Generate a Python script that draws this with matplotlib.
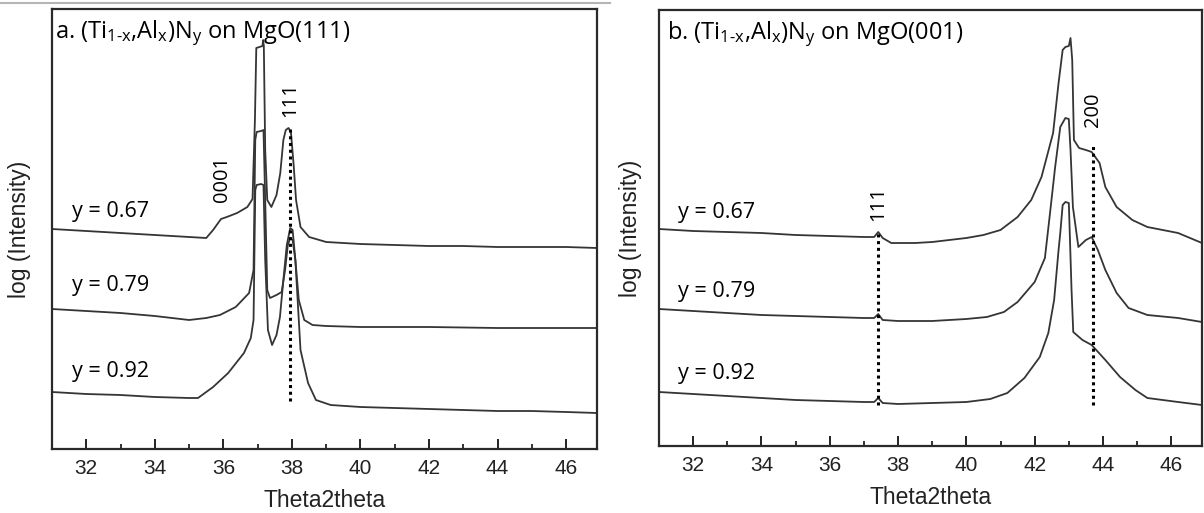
import matplotlib
matplotlib.use("Agg")
import matplotlib.pyplot as plt
from matplotlib.lines import Line2D
from matplotlib.ticker import MultipleLocator

TEXT_FONT = "Open Sans"
AXIS_FONT = "Liberation Sans"

plt.rcParams["mathtext.fontset"] = "custom"
plt.rcParams["mathtext.rm"] = TEXT_FONT + ":medium"
plt.rcParams["mathtext.it"] = TEXT_FONT + ":italic"

# ---- data: 2theta (deg) and offset log intensity (arb. units) ----
# (a) MgO(111)
a_067_x = [31.0, 32.0, 33.0, 34.0, 35.0, 35.5, 35.7, 35.93, 36.1, 36.4, 36.7, 36.85, 36.92, 36.96,
           37.05, 37.14, 37.16, 37.18, 37.22, 37.28, 37.4, 37.55, 37.66, 37.75, 37.82, 37.9, 37.97,
           38.05, 38.12, 38.25, 38.5, 39.0, 40.0, 41.0, 42.0, 43.0, 44.0, 45.0, 46.0, 46.9]
a_067_y = [2.20, 2.18, 2.16, 2.14, 2.12, 2.11, 2.19, 2.30, 2.32, 2.36, 2.42, 2.50, 3.29, 4.01,
           4.02, 4.03, 4.09, 4.03, 2.99, 2.49, 2.42, 2.54, 2.76, 3.09, 3.19, 3.21, 3.17,
           2.84, 2.49, 2.22, 2.12, 2.07, 2.05, 2.04, 2.03, 2.03, 2.02, 2.02, 2.02, 2.01]

a_079_x = [31.0, 32.0, 33.0, 34.0, 35.0, 35.5, 35.9, 36.36, 36.75, 36.88, 36.93, 36.97, 37.1, 37.17,
           37.22, 37.28, 37.36, 37.55, 37.7, 37.8, 37.88, 37.95, 38.02, 38.1, 38.2, 38.36, 38.6,
           39.0, 40.0, 42.0, 44.0, 46.0, 46.9]
a_079_y = [1.40, 1.38, 1.36, 1.33, 1.29, 1.31, 1.34, 1.42, 1.56, 1.79, 3.09, 3.17, 3.18, 3.19,
           2.49, 1.59, 1.51, 1.54, 1.57, 1.79, 2.04, 2.11, 2.09, 1.89, 1.49, 1.29, 1.24,
           1.23, 1.22, 1.22, 1.21, 1.21, 1.21]

a_092_x = [31.0, 32.0, 33.0, 34.0, 35.0, 35.26, 35.7, 36.14, 36.6, 36.8, 36.88, 36.93, 36.97, 37.1,
           37.17, 37.22, 37.3, 37.42, 37.55, 37.65, 37.75, 37.85, 37.95, 38.02, 38.1, 38.25, 38.47,
           38.7, 39.13, 40.0, 41.0, 42.0, 43.0, 44.0, 45.0, 46.0, 46.9]
a_092_y = [0.57, 0.55, 0.54, 0.52, 0.51, 0.51, 0.62, 0.76, 0.96, 1.11, 1.29, 2.59, 2.64, 2.65,
           2.64, 1.89, 1.19, 1.04, 1.14, 1.32, 1.69, 2.04, 2.21, 2.19, 1.89, 0.99, 0.66,
           0.49, 0.44, 0.42, 0.41, 0.40, 0.39, 0.38, 0.38, 0.37, 0.36]

# (b) MgO(001)
b_067_x = [31.0, 32.0, 33.0, 34.0, 35.0, 36.0, 37.0, 37.3, 37.42, 37.55, 37.8, 38.5, 39.0, 40.0,
           40.5, 41.0, 41.5, 41.9, 42.2, 42.54, 42.7, 42.82, 42.9, 43.0, 43.05, 43.1, 43.15, 43.3,
           43.5, 43.67, 43.9, 44.07, 44.4, 44.86, 45.3, 46.2, 46.9]
b_067_y = [2.17, 2.15, 2.14, 2.13, 2.11, 2.10, 2.09, 2.09, 2.14, 2.08, 2.03, 2.03, 2.04, 2.08,
           2.11, 2.16, 2.29, 2.46, 2.69, 3.13, 3.63, 3.96, 3.99, 4.00, 4.08, 3.86, 3.06, 2.98,
           2.96, 2.94, 2.83, 2.59, 2.39, 2.26, 2.19, 2.13, 2.03]

b_079_x = [31.0, 32.0, 33.0, 34.0, 35.0, 36.0, 37.0, 37.3, 37.42, 37.55, 38.0, 39.0, 40.0, 40.6,
           41.1, 41.5, 42.0, 42.3, 42.45, 42.6, 42.75, 42.9, 43.0, 43.05, 43.12, 43.28, 43.5,
           43.67, 43.85, 44.07, 44.4, 44.75, 45.3, 46.2, 46.9]
b_079_y = [1.37, 1.35, 1.33, 1.31, 1.30, 1.29, 1.28, 1.28, 1.32, 1.26, 1.25, 1.25, 1.27, 1.29,
           1.34, 1.44, 1.64, 1.88, 2.33, 2.79, 3.19, 3.28, 3.27, 2.96, 2.39, 1.99, 2.06,
           2.09, 1.96, 1.76, 1.53, 1.38, 1.31, 1.28, 1.24]

b_092_x = [31.0, 32.0, 33.0, 34.0, 35.0, 36.0, 37.0, 37.3, 37.42, 37.55, 38.0, 39.0, 40.0, 40.7,
           41.2, 41.7, 42.15, 42.4, 42.57, 42.7, 42.75, 42.82, 42.9, 43.0, 43.08, 43.13, 43.4,
           43.67, 44.07, 44.5, 44.95, 45.3, 46.2, 46.9]
b_092_y = [0.54, 0.52, 0.50, 0.48, 0.46, 0.45, 0.44, 0.44, 0.48, 0.43, 0.42, 0.43, 0.44, 0.47,
           0.53, 0.68, 0.89, 1.13, 1.46, 1.96, 2.13, 2.41, 2.44, 2.43, 1.56, 1.14, 1.06,
           1.01, 0.86, 0.69, 0.56, 0.48, 0.44, 0.41]

series_labels = ["y = 0.67", "y = 0.79", "y = 0.92"]
xticks = [32, 34, 36, 38, 40, 42, 44, 46]

panels = [
    dict(title=r"a. (Ti$_{\text{1-x}}$,Al$_{\text{x}}$)N$_{\text{y}}$ on MgO(111)",
         traces=[(a_067_x, a_067_y), (a_079_x, a_079_y), (a_092_x, a_092_y)],
         label_y=[2.37, 1.63, 0.78],
         refs=[(37.95, 0.48, 3.21, "111", 3.49)],
         extra=[("0001", 35.96, 2.70)],
         rect=[52 / 1204, 64 / 513, 545 / 1204, 440 / 513],
         ylim=(0, 4.40), ylab_x=-0.0600, title_x=0.0064),
    dict(title=r"b. (Ti$_{\text{1-x}}$,Al$_{\text{x}}$)N$_{\text{y}}$ on MgO(001)",
         traces=[(b_067_x, b_067_y), (b_079_x, b_079_y), (b_092_x, b_092_y)],
         label_y=[2.34, 1.55, 0.73],
         refs=[(37.42, 0.41, 2.14, "111", 2.42), (43.71, 0.41, 3.03, "200", 3.36)],
         extra=[],
         rect=[659 / 1204, 67 / 513, 543 / 1204, 436 / 513],
         ylim=(0, 4.36), ylab_x=-0.0525, title_x=0.0147),
]

fig = plt.figure(figsize=(12.04, 5.13), dpi=100)

# thin rule across the top-left
fig.add_artist(Line2D([0, 610 / 1204], [1 - 3 / 513, 1 - 3 / 513],
                      transform=fig.transFigure, color="#b5b5b5", lw=1.5))

text_kw = dict(family=TEXT_FONT, fontweight="medium", color="black")
trace_color = "#353535"
for p in panels:
    ax = fig.add_axes(p["rect"])
    for xs, ys in p["traces"]:
        ax.plot(xs, ys, color=trace_color, lw=1.3)
    for xr, y0, y1, lab, ylab in p["refs"]:
        ax.plot([xr, xr], [y0, y1], color="black", lw=2.2, linestyle=(0, (1, 1.2)))
        ax.text(xr, ylab, lab, rotation=90, ha="center", va="center",
                fontsize=14.5, **text_kw)
    for lab, xl, yl in p["extra"]:
        ax.text(xl, yl, lab, rotation=90, ha="center", va="center",
                fontsize=14.5, **text_kw)
    for lab, yl in zip(series_labels, p["label_y"]):
        ax.text(31.57, yl, lab, ha="left", va="center", fontsize=15.5, **text_kw)
    ax.text(p["title_x"], 0.945, p["title"], transform=ax.transAxes,
            ha="left", va="center", fontsize=17, **text_kw)

    ax.set_xlim(31.0, 46.9)
    ax.set_ylim(*p["ylim"])
    ax.set_xticks(xticks)
    ax.xaxis.set_minor_locator(MultipleLocator(1))
    ax.set_yticks([])
    ax.tick_params(axis="x", which="major", direction="in", length=7, width=1.4,
                   labelsize=15, pad=7, colors="#222222")
    ax.tick_params(axis="x", which="minor", direction="in", length=3.5, width=1.3,
                   colors="#222222")
    for lbl in ax.get_xticklabels():
        lbl.set_family(AXIS_FONT)
    for s in ax.spines.values():
        s.set_linewidth(1.6)
        s.set_color("#2a2a2a")
    ax.set_xlabel("Theta2theta", fontsize=16.5, family=AXIS_FONT, labelpad=8,
                  color="#222222")
    ax.set_ylabel("log (Intensity)", fontsize=16.5, family=AXIS_FONT,
                  va="center", color="#222222")
    ax.yaxis.set_label_coords(p["ylab_x"], 0.5)

fig.savefig("out.png", dpi=100)
